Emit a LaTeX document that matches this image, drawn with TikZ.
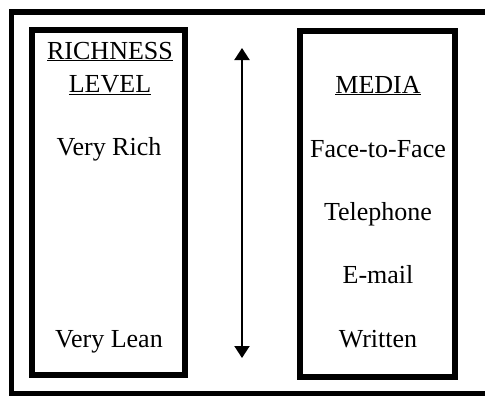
\documentclass[tikz,border=0pt]{standalone}
\usepackage{fontspec}
\setmainfont{Liberation Serif}
\usetikzlibrary{arrows.meta}
\begin{document}
\begin{tikzpicture}[x=1pt,y=-1pt,
  frame/.style={draw=black,line width=5.5pt},
  colbox/.style={draw=black,line width=6pt,rectangle,inner sep=0pt},
  lbl/.style={anchor=base,inner sep=0pt,font=\fontsize{26}{30}\selectfont},
  scale arrow/.style={line width=2pt,{Triangle[width=15pt,length=12pt]}-{Triangle[width=15pt,length=12pt]}}]
\useasboundingbox (0,0) rectangle (485,397);
\fill[white] (0,0) rectangle (485,397);
\draw[frame] (495,12) -- (11.5,12) -- (11.5,393.5) -- (495,393.5);
\node[colbox,minimum width=153.5pt,minimum height=344.5pt] (lbox) at (108.25,202.25) {};
\node[colbox,minimum width=155.5pt,minimum height=346pt] (rbox) at (377.25,204) {};
\node[lbl] (rich1) at (110,59) {\underline{RICHNESS}};
\node[lbl] (rich2) at (110,92) {\underline{LEVEL}};
\node[lbl] (vrich) at (109,155) {Very Rich};
\node[lbl] (vlean) at (109,347) {Very Lean};
\node[lbl] (media) at (378,93) {\underline{MEDIA}};
\node[lbl] (f2f) at (378,157) {Face-to-Face};
\node[lbl] (tel) at (378,220) {Telephone};
\node[lbl] (email) at (378,283) {E-mail};
\node[lbl] (writ) at (378,347) {Written};
\coordinate (atop) at (242,48);
\coordinate (abot) at (242,358);
\draw[scale arrow] (atop) -- (abot);
\end{tikzpicture}
\end{document}
